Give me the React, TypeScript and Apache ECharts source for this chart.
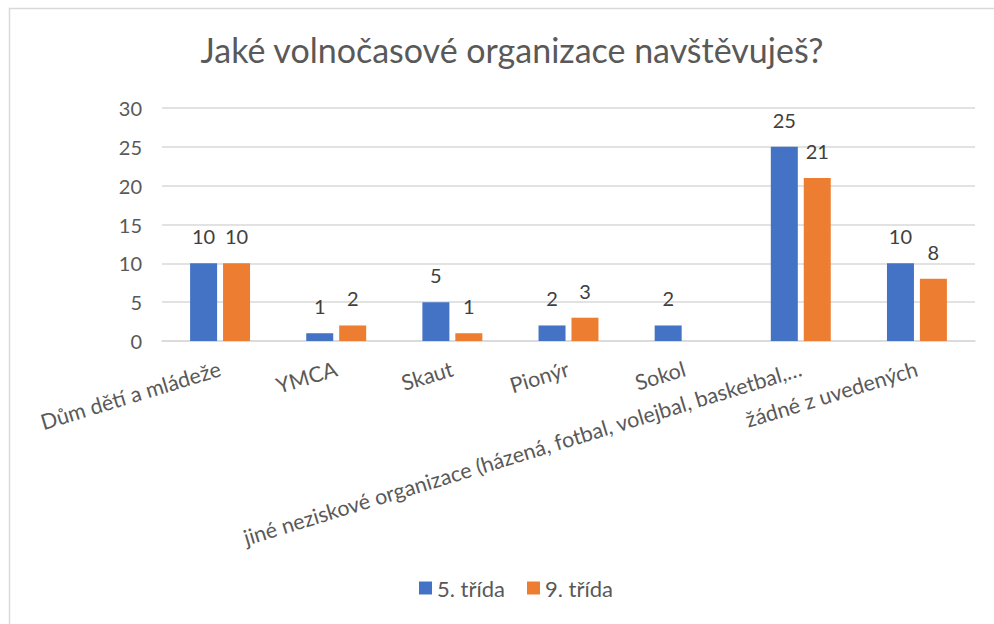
import React, { useEffect, useRef } from "react";
import * as echarts from "echarts";

const categories = [
  "Dům dětí a mládeže",
  "YMCA",
  "Skaut",
  "Pionýr",
  "Sokol",
  "jiné neziskové organizace (házená, fotbal, volejbal, basketbal,…",
  "žádné z uvedených",
];
const grade5 = [10, 1, 5, 2, 2, 25, 10];
const grade9 = [10, 2, 1, 3, 0, 21, 8];
const seriesNames = ["5. třída", "9. třída"];
const yTicks = { min: 0, max: 30, interval: 5 };

const FONT = "Lato";

export default function App() {
  const ref = useRef<HTMLDivElement>(null);
  useEffect(() => {
    if (!ref.current) return;
    const chart = echarts.init(ref.current, null, { renderer: "svg" });
    const label = {
      show: true,
      position: "top" as const,
      distance: 17,
      color: "#404040",
      fontFamily: FONT,
      fontSize: 20,
      formatter: (p: any) => (p.value ? String(p.value) : ""),
    };
    chart.setOption({
      animation: false,
      backgroundColor: "#ffffff",
      title: {
        text: "Jaké volnočasové organizace navštěvuješ?",
        left: 507,
        top: 27,
        textAlign: "center",
        textStyle: { fontFamily: FONT, fontSize: 34, fontWeight: "normal", color: "#595959" },
      },
      graphic: [
        {
          type: "rect",
          shape: { x: 9.5, y: 8.5, width: 1000, height: 700 },
          style: { fill: "none", stroke: "#d9d9d9", lineWidth: 1.5 },
          silent: true,
        },
      ],
      legend: {
        data: seriesNames,
        left: 414,
        top: 572,
        itemWidth: 13,
        itemHeight: 13,
        itemGap: 22,
        icon: "rect",
        textStyle: { fontFamily: FONT, fontSize: 22, color: "#595959" },
      },
      grid: { left: 162, right: 19, top: 108, bottom: 283, containLabel: false },
      xAxis: {
        type: "category",
        data: categories,
        axisLine: { show: true, lineStyle: { color: "#d9d9d9", width: 1.5 } },
        axisTick: { show: false },
        axisLabel: {
          interval: 0,
          rotate: 17,
          margin: 27,
          color: "#595959",
          fontFamily: FONT,
          fontSize: 21.5,
        },
      },
      yAxis: {
        type: "value",
        min: yTicks.min,
        max: yTicks.max,
        interval: yTicks.interval,
        axisLine: { show: false },
        axisTick: { show: false },
        splitLine: { lineStyle: { color: "#d9d9d9", width: 1.5 } },
        axisLabel: { color: "#595959", fontFamily: FONT, fontSize: 20, margin: 20 },
      },
      series: [
        {
          name: seriesNames[0],
          type: "bar",
          data: grade5,
          barWidth: 27,
          barGap: "22%",
          itemStyle: { color: "#4472c4" },
          label,
        },
        {
          name: seriesNames[1],
          type: "bar",
          data: grade9,
          barWidth: 27,
          barGap: "22%",
          itemStyle: { color: "#ed7d31" },
          label,
        },
      ],
    });
    return () => chart.dispose();
  }, []);
  return (
    <div style={{ position: "fixed", left: 0, top: 0, width: 994, height: 624, overflow: "hidden" }}>
      <div ref={ref} style={{ width: 994, height: 624 }} />
    </div>
  );
}
